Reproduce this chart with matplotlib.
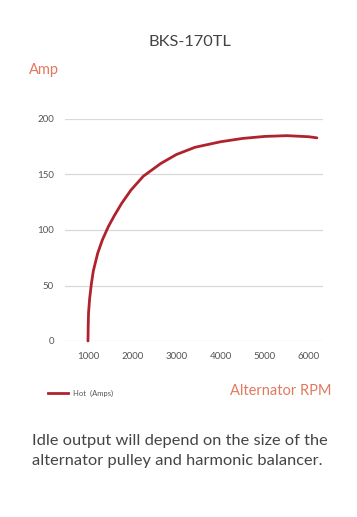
import matplotlib
matplotlib.use("Agg")
import matplotlib.pyplot as plt

rpm = [1000, 1005, 1012, 1037, 1075, 1120, 1219, 1325, 1460, 1597, 1762, 1973, 2253, 2650, 3000, 3420, 4000, 4500, 5000, 5500, 6000, 6180]
amps = [0, 13, 25, 38, 51, 63, 79, 91, 103, 113, 124, 136, 148.5, 160, 168, 174.5, 179.5, 182.5, 184.3, 185, 184, 183]
yticks = [0, 50, 100, 150, 200]
xticks = [1000, 2000, 3000, 4000, 5000, 6000]

plt.rcParams['font.family'] = ['Lato', 'DejaVu Sans']
fig = plt.figure(figsize=(3.57, 5.17), dpi=100)
W, H = 357, 517
ax = fig.add_axes([65 / W, 1 - 341 / H, (323 - 65) / W, (341 - 119) / H])
ax.plot(rpm, amps, color='#B0222E', lw=2, solid_capstyle='round', solid_joinstyle='round', clip_on=False, zorder=3)
ax.set_xlim(480, 6317)
ax.set_ylim(0, 200)
ax.set_yticks(yticks)
ax.set_xticks(xticks)
ax.grid(axis='y', color='#D9D9D9', lw=0.9)
ax.set_axisbelow(True)
for s in ax.spines.values():
    s.set_visible(False)
ax.tick_params(length=0, labelsize=7, labelcolor='#555555', pad=8)
ax.tick_params(axis='x', pad=8)

fig.text(190 / W, 1 - 42 / H, 'BKS-170TL', ha='center', va='center', fontsize=11.8, color='#444444')
fig.text(29 / W, 1 - 70 / H, 'Amp', ha='left', va='center', fontsize=10.5, color='#E07A5F')
fig.text(332 / W, 1 - 391 / H, 'Alternator RPM', ha='right', va='center', fontsize=10.5, color='#E07A5F')
fig.add_artist(plt.Line2D([48 / W, 68 / W], [1 - 393 / H, 1 - 393 / H], color='#B0222E', lw=2))
fig.text(73 / W, 1 - 393 / H, 'Hot  (Amps)', ha='left', va='center', fontsize=5.5, color='#555555')
fig.text(32 / W, 1 - 441 / H, 'Idle output will depend on the size of the', ha='left', va='center', fontsize=11.8, color='#444444')
fig.text(32 / W, 1 - 461 / H, 'alternator pulley and harmonic balancer.', ha='left', va='center', fontsize=11.8, color='#444444')

fig.savefig('out.png', dpi=100)
